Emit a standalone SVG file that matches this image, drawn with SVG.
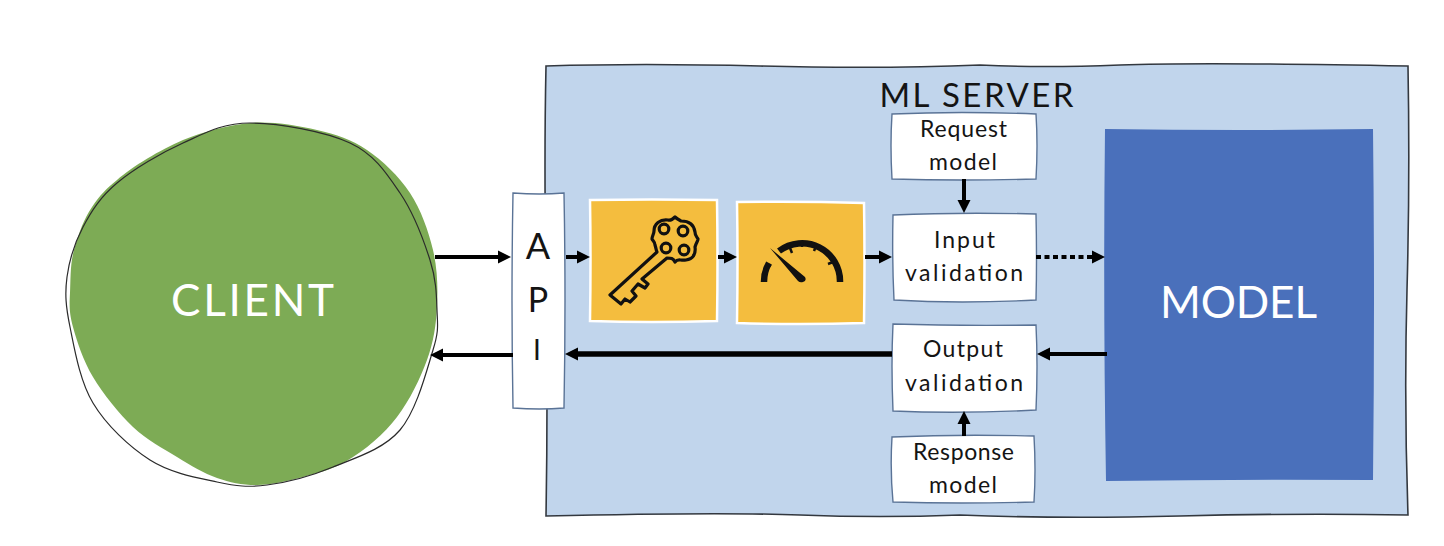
<svg xmlns="http://www.w3.org/2000/svg" width="1444" height="546" viewBox="0 0 1444 546">
<style>
.box{fill:#fff;stroke:#5a7396;stroke-width:1.4}
.tile{fill:#f4bd3e;stroke:#fff;stroke-width:2.5}
.t{font-family:"Lato","Noto Sans",sans-serif;fill:#141414;text-anchor:middle;font-size:23px}
.big{font-size:44px;fill:#fff}
.c{fill:none;stroke:#000;stroke-width:4}
.key{fill:none;stroke:#111;stroke-width:3.2;stroke-linejoin:round}
.g{fill:none;stroke:#111;stroke-width:6.500}
.tick{fill:none;stroke:#111;stroke-width:2.500}
</style>
<defs>
<marker id="a" markerUnits="userSpaceOnUse" markerWidth="14" markerHeight="16" refX="0" refY="8" orient="auto"><path d="M0 1.5L13 8L0 14.500Z" fill="#000"/></marker>
</defs>
<rect width="1444" height="546" fill="#fff"/>
<g id="ml-server">
<path d="M546 66Q640 63 760 66T980 65Q1040 68 1120 65T1408 66Q1410 180 1407 290T1408 515Q1300 513 1180 516T960 515Q880 518 800 515T546 516Q548 400 546 280T546 66Z" fill="#c1d5ec" stroke="#33383f" stroke-width="1.6"/>
<text class="t" x="976.500" y="107" style="font-size:33px" textLength="194" lengthAdjust="spacing">ML SERVER</text>
</g>
<g id="client">
<path d="M250 123C272.3 121.3 297.5 125.5 317 130C336.5 134.5 351.5 139.5 367 150C382.5 160.5 399 176.3 410 193C421 209.7 428.5 231 433 250C437.5 269 438 288.7 437 307C436 325.3 433.7 341.7 427 360C420.3 378.3 409.8 400.3 397 417C384.2 433.7 365.7 450 345 462C329 471 316 473 303 477C287.5 481.2 271.3 484.8 257 485C242.7 485.2 230.3 482.7 217 478C203.7 473.3 191 465.5 177 457C163 448.5 147 440.3 133 427C119 413.7 103 393.7 93 377C83 360.3 76.8 341 73 327C69.2 313 69.3 305.8 70 293C70.7 280.2 70 264 74 250C79 232 84 219 92 207C100 195 106 189 117 180C133 166 160 150 183 140C203.5 131.7 229.5 124.7 250 123Z" fill="#7dab55"/>
<path d="M250 123C277.8 123 325 131.3 350 143C375 154.7 386.7 173.5 400 193C413.3 212.5 423.8 240.5 430 260C436.2 279.5 436.5 295 437 310C437.5 325 439.2 330 433 350C426.8 370 416.7 410.5 400 430C383.3 449.5 355.2 457.8 333 467C310.8 476.2 286.3 482.5 267 485C247.7 487.5 236.5 486.2 217 482C197.5 477.8 170.7 473.2 150 460C129.3 446.8 106.3 425.2 93 403C79.7 380.8 74.3 348 70 327C65.7 306 64.8 293.7 67 277C69.2 260.3 74.7 242.7 83 227C91.3 211.3 100.3 197 117 183C133.7 169 160.8 153 183 143C205.2 133 222.2 123 250 123Z" fill="none" stroke="#2b2b2b" stroke-width="1.2"/>
<text class="t big" x="252.500" y="316" textLength="163" lengthAdjust="spacing">CLIENT</text>
</g>
<g id="api">
<path class="box" d="M513 193Q540 195 564 193Q566 300 564 408Q540 410 513 408Q511 300 513 193Z"/>
<text class="t" x="538" y="259" style="font-size:36px">A</text>
<text class="t" x="538" y="312" style="font-size:34px">P</text>
<text class="t" x="537" y="360" style="font-size:28px">I</text>
</g>
<g id="key-tile">
<path class="tile" d="M590 200Q650 199 717 200Q718 260 717 321Q650 323 590 321Q591 260 590 200Z"/>
<path class="key" d="M657 252L610 295L621 304L625 299L630 302L636 296L632 291L638 284L645 288L648 284L642 279L667 258C671 258 673 258 675 262C678 258 680 261 686 260C693 259 696 254 695 247C696 243 698 241 698 239C697 237 695 236 695 232C694 225 689 221 681 221C679 220 677 219 675 217C673 219 671 221 668 220C660 219 654 224 654 231C654 234 652 236 652 239C653 241 655 242 655 245C656 248 656 250 657 252Z"/>
<circle class="key" cx="664" cy="229" r="4.800"/><circle class="key" cx="683" cy="231" r="4.800"/><circle class="key" cx="666" cy="248" r="4.800"/><circle class="key" cx="684" cy="250" r="4.800"/>
</g>
<g id="gauge-tile">
<path class="tile" d="M737 202Q800 201 864 203Q865 260 864 323Q800 325 737 323Q738 260 737 202Z"/>
<path class="g" d="M764 282A38 38 0 0 1 769 263"/>
<path class="g" d="M779 251A38 38 0 0 1 840 282"/>
<path d="M770 248L805 277Q807 281 803 282Q800 283 798 281Z" fill="#111"/>
<path class="tick" d="M790 248L792 253M802 242V247M816 246L814 251M833 262L828 264M771 266L767 264"/>
</g>
<g id="request-model">
<path class="box" d="M892 114Q960 111 1036 114Q1038 145 1036 179Q960 181 892 179Q890 145 892 114Z"/>
<text class="t" x="963.500" y="137" textLength="87" lengthAdjust="spacing">Request</text>
<text class="t" x="963" y="170" textLength="68" lengthAdjust="spacing">model</text>
</g>
<g id="input-validation">
<path class="box" d="M893 215Q960 212 1036 214Q1037 260 1036 300Q960 304 894 300Q892 260 893 215Z"/>
<text class="t" x="964.500" y="248" textLength="61" lengthAdjust="spacing">Input</text>
<text class="t" x="964" y="281" textLength="118" lengthAdjust="spacing">validation</text>
</g>
<g id="output-validation">
<path class="box" d="M893 324Q960 326 1036 325Q1038 365 1036 410Q960 414 893 411Q891 365 893 324Z"/>
<text class="t" x="963" y="357" textLength="80" lengthAdjust="spacing">Output</text>
<text class="t" x="964" y="391" textLength="118" lengthAdjust="spacing">validation</text>
</g>
<g id="response-model">
<path class="box" d="M892 437Q960 434 1034 436Q1036 470 1034 502Q960 504 893 502Q890 470 892 437Z"/>
<text class="t" x="963.500" y="460" textLength="101" lengthAdjust="spacing">Response</text>
<text class="t" x="963" y="493" textLength="68" lengthAdjust="spacing">model</text>
</g>
<g id="model">
<path d="M1105 129Q1240 131 1373 129Q1375 300 1373 480Q1240 479 1106 481Q1103 300 1105 129Z" fill="#4a70bb"/>
<text class="t big" x="1238.500" y="318" textLength="157" lengthAdjust="spacing">MODEL</text>
</g>
<g id="connectors">
<path class="c" d="M435 257H498" marker-end="url(#a)"/>
<path class="c" d="M566 257H577" marker-end="url(#a)"/>
<path class="c" d="M718 257H724" marker-end="url(#a)"/>
<path class="c" d="M865 257H879" marker-end="url(#a)"/>
<path class="c" d="M1036 257H1092" marker-end="url(#a)" style="stroke-dasharray:5 3.500"/>
<path class="c" d="M964 179V200" marker-end="url(#a)"/>
<path class="c" d="M964 436V424" marker-end="url(#a)"/>
<path class="c" d="M1107 354H1050" marker-end="url(#a)"/>
<path class="c" d="M892 354H578" marker-end="url(#a)" style="stroke-width:5.500"/>
<path class="c" d="M513 355H443" marker-end="url(#a)"/>
</g>
</svg>
